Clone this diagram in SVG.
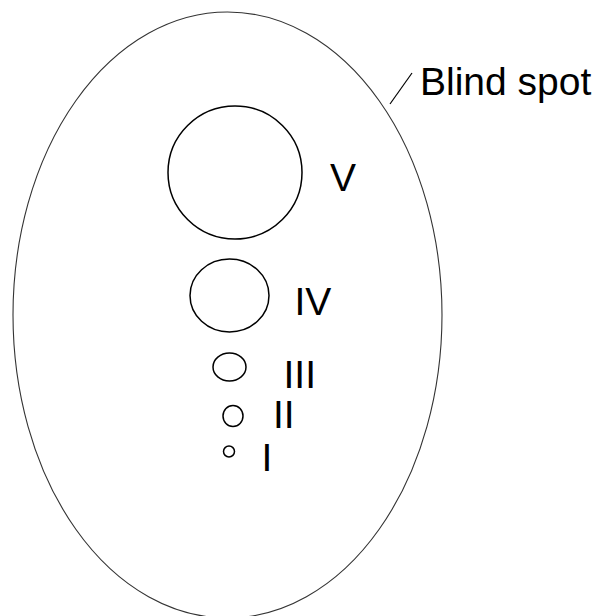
<svg xmlns="http://www.w3.org/2000/svg" width="599" height="616" viewBox="0 0 599 616">
<style>
.eye{fill:none;stroke:#333;stroke-width:1.1}
.c{fill:none;stroke:#000;stroke-width:1.5}
.t{font-family:"Liberation Sans",Arial,sans-serif;font-size:39px;fill:#000}
</style>
<rect width="599" height="616" fill="#fff"/>
<g id="field"><ellipse class="eye" cx="227.5" cy="315" rx="214.5" ry="303"/></g>
<g id="v"><ellipse class="c" cx="235" cy="172.5" rx="67" ry="66.5"/><text class="t" x="330" y="191">V</text></g>
<g id="iv"><ellipse class="c" cx="229.5" cy="295.5" rx="39.5" ry="36.5"/><text class="t" x="294.5" y="315">IV</text></g>
<g id="iii"><ellipse class="c" cx="229.5" cy="367" rx="16.5" ry="14"/><text class="t" x="283.5" y="388">III</text></g>
<g id="ii"><ellipse class="c" cx="233" cy="416" rx="10" ry="10.5"/><text class="t" x="273" y="428">II</text></g>
<g id="i"><ellipse class="c" cx="229" cy="451.5" rx="5.5" ry="5.5"/><text class="t" x="261.5" y="470.5">I</text></g>
<g id="connectors"><line x1="390" y1="104" x2="412" y2="73" stroke="#000" stroke-width="1.2"/></g>
<g id="blind"><text class="t" x="420" y="95">Blind spot</text></g>
</svg>
